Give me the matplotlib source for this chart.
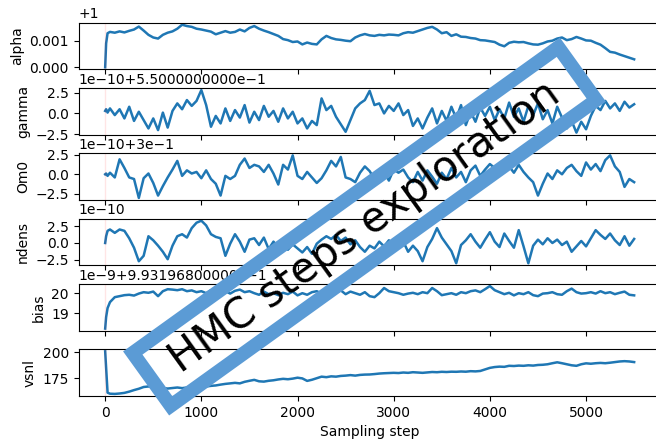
import numpy as np
import matplotlib
matplotlib.use("Agg")
import matplotlib.pyplot as plt
from matplotlib.patches import Polygon
from matplotlib.ticker import ScalarFormatter

steps = [0, 10, 25, 50] + list(range(100, 5501, 50))

# alpha - 1, in units of 1e-3
alpha_e3 = [0.0, 0.9, 1.28, 1.33,
            1.30, 1.35, 1.31, 1.37, 1.42, 1.53, 1.38, 1.22, 1.12, 1.08, 1.22, 1.30, 1.35, 1.45, 1.60, 1.55, 1.52, 1.45, 1.42,
            1.38, 1.34, 1.24, 1.30, 1.36, 1.30, 1.33, 1.42, 1.35, 1.48, 1.55, 1.45, 1.38, 1.32, 1.25, 1.18, 1.06, 1.02, 0.95, 0.97,
            0.86, 0.93, 0.88, 0.86, 1.05, 1.18, 1.10, 1.05, 1.03, 1.00, 0.98, 1.12, 1.20, 1.25, 1.20, 1.18, 1.22, 1.20, 1.23, 1.22,
            1.20, 1.28, 1.32, 1.30, 1.36, 1.42, 1.48, 1.52, 1.42, 1.28, 1.32, 1.18, 1.24, 1.15, 1.14, 1.10, 1.08, 1.02, 1.01, 0.98,
            0.95, 0.85, 0.79, 0.92, 0.96, 0.94, 0.95, 0.90, 0.86, 0.85, 0.90, 0.97, 1.00, 1.08, 1.12, 1.02, 1.06, 1.14, 1.08, 1.01,
            1.00, 0.92, 0.85, 0.72, 0.58, 0.55, 0.48, 0.42, 0.36, 0.30]

# gamma - 0.55, in units of 1e-10
gamma_e10 = [0.3, 0.5, 0.1, 0.6,
             -0.2, 0.5, -0.6, 0.8, -0.9, 0.2, -0.8, -1.8, -0.6, -2.0, 0.1, -1.7, 0.3, 1.2, 0.5, 1.6, 0.9, 1.5, 2.8,
             1.0, -1.6, -0.3, -1.2, 0.6, -0.9, 0.4, -0.5, 1.0, -1.1, 0.2, -0.8, 0.9, -0.4, 0.3, -1.0, 0.6, -0.6, 0.2, -1.2,
             -0.6, -1.8, -0.9, -1.4, 1.8, 0.4, 0.9, -0.4, -1.3, -2.2, -0.8, 0.6, 1.2, 1.6, 2.7, 1.0, 1.2, 0.0, 0.9, 0.3,
             1.2, -0.2, 0.4, -1.5, -0.6, -1.8, -0.5, 0.6, -1.2, 0.3, -0.9, 0.8, -0.6, 1.0, -1.4, 0.2, -1.0, 0.7, -0.3, 0.8,
             -0.8, 0.5, -0.6, 1.3, -0.4, 0.6, -1.0, 0.9, -0.2, 1.2, -0.7, 0.4, -1.2, 0.8, -0.5, -1.8, -0.9, -2.3, -1.0, -1.9,
             -0.3, 0.9, 0.4, 1.5, 0.6, 1.2, 0.3, 1.4, 0.7, 1.1]

# Om0 - 0.3, in units of 1e-10
om0_e10 = [0.0, 0.1, -0.2, 0.2,
           -0.4, 1.9, 0.8, -0.4, -0.6, -3.0, -0.5, 0.1, -1.1, -2.7, -1.5, -0.4, 0.6, 1.7, -0.2, 0.5, 0.1, 0.3, -0.5,
           0.5, -0.6, -1.2, -2.7, -0.2, -0.6, -0.2, 1.2, 2.0, 0.8, 1.2, 1.0, 0.3, 1.2, 0.1, -1.3, 1.2, 0.6, 2.4, -0.2,
           -0.6, 0.3, -0.4, -1.1, -0.5, 0.5, 1.7, 1.0, 2.2, -0.4, -0.6, -1.0, 0.2, 1.0, 0.4, -0.6, -0.2, 0.3, -0.8, 0.6,
           0.2, 0.6, -0.4, -1.0, 0.3, -0.8, 0.5, -0.3, -1.2, 0.2, -0.6, 0.8, -0.4, 0.3, -1.0, 0.5, 1.1, -0.2, 0.6, 1.3,
           0.8, 1.4, 0.4, 1.0, 0.2, 1.2, 0.3, -0.4, -1.0, -2.7, -1.2, 0.1, -0.6, 0.5, 0.0, 0.8, 1.2, 0.4, -0.2, 1.5,
           0.6, 1.3, 0.4, 1.8, 2.4, 1.0, 0.3, -1.6, -0.6, -1.0]

# ndens, in units of 1e-10
ndens_e10 = [0.0, 1.0, 1.8, 2.0,
             1.5, 2.0, 1.8, 0.7, -0.7, -2.7, -1.9, 1.0, 0.4, -0.4, -1.3, -2.4, -0.4, 1.0, 1.3, 0.8, 2.2, 3.0, 3.3,
             2.6, 1.3, 0.9, 0.7, -1.9, -0.1, 1.3, 0.2, -1.3, 0.5, 0.7, -0.3, 0.8, -0.9, 0.2, -0.6, 0.4, -1.0, -0.2, -0.8,
             -1.4, -0.6, -1.6, -0.1, 0.5, 1.0, 0.6, 1.2, 0.3, 0.8, -0.2, 0.4, -0.6, -1.3, -0.4, -0.8, 0.2, -0.5, 0.4, -0.6,
             0.3, 0.2, -1.3, -0.4, -1.2, -2.7, -0.6, 0.6, 2.2, 0.8, -0.2, -1.2, -3.0, -0.3, 0.4, 1.3, 0.2, -0.7, 0.5, 1.6,
             0.2, -0.6, 1.4, 0.3, -0.7, 1.9, -0.5, -3.0, -0.4, 0.5, -0.2, 0.7, 0.0, 0.5, -0.3, 0.2, -1.3, -0.5, 0.3, -0.5,
             0.7, 1.9, 1.2, 0.6, 1.4, 0.4, -0.3, 1.0, -0.4, 0.6]

# bias - 0.9931968, in units of 1e-9
bias_e9 = [18.22, 18.8, 19.25, 19.55,
           19.8, 19.85, 19.9, 19.92, 19.88, 19.98, 20.05, 20.02, 20.08, 19.85, 20.1, 20.2, 20.18, 20.15, 20.2, 20.1, 20.14, 20.05, 20.1,
           20.0, 20.15, 19.95, 20.05, 20.1, 19.98, 20.12, 20.18, 20.05, 20.1, 20.0, 19.92, 20.08, 19.95, 20.0, 19.9, 20.02, 19.95, 20.08, 19.89,
           20.0, 19.92, 20.05, 20.1, 19.98, 20.12, 20.15, 20.05, 20.14, 19.95, 20.08, 20.0, 19.92, 20.05, 19.85, 19.8, 20.0, 20.26, 20.1, 20.05,
           20.0, 19.92, 19.98, 20.02, 19.95, 20.05, 20.0, 20.26, 20.1, 19.9, 19.95, 20.0, 19.92, 20.05, 20.0, 20.1, 20.14, 20.05, 20.2, 20.36,
           20.15, 20.05, 19.95, 20.02, 19.89, 20.0, 19.95, 20.05, 19.9, 19.85, 19.98, 20.0, 20.05, 19.95, 19.92, 20.1, 20.23, 20.05, 19.98, 20.0,
           20.05, 19.98, 20.1, 20.0, 20.05, 19.95, 20.02, 20.08, 19.92, 19.89]

vsnl = [201, 185, 161, 160,
        159.8, 160.2, 160.8, 162, 163.5, 164.8, 166.5, 167, 166.2, 166.5, 165.5, 165, 165.5, 166, 165.4, 166, 165.5, 166.3, 166.5,
        167, 167.6, 168, 168.8, 169.5, 170, 170.5, 170, 171.5, 172.5, 173.4, 172, 171.7, 172.5, 173, 173.8, 174.4, 174, 174.6, 175.5,
        174.8, 172.4, 173.5, 175, 176.5, 176, 176.8, 176.5, 177.2, 177.5, 178, 177.5, 178.2, 178.5, 178.6, 179, 179.5, 179.8, 180, 180.2,
        180, 180.5, 180.2, 180.8, 180.5, 180.2, 180.6, 181, 180.8, 181.2, 181, 181.3, 181.2, 181.5, 181.3, 181.8, 181.6, 182, 183.5, 185,
        185.8, 186.2, 186, 187, 186.8, 187.2, 187, 187.5, 187.2, 187.8, 188, 188.5, 189.5, 190.4, 189.5, 188.5, 187.5, 187, 188.5, 189.4,
        189, 189.5, 189.8, 189.5, 190, 190.6, 191.2, 191.5, 191.2, 190.6]

labels = ["alpha", "gamma", "Om0", "ndens", "bias", "vsnl"]
offset_texts = ["+1", "1e\u221210+5.5000000000e\u22121", "1e\u221210+3e\u22121", "1e\u221210",
                "1e\u22129+9.93196800000e\u22121", ""]
traces = [1 + np.array(alpha_e3) * 1e-3,
          0.55 + np.array(gamma_e10) * 1e-10,
          0.3 + np.array(om0_e10) * 1e-10,
          np.array(ndens_e10) * 1e-10,
          0.9931968 + np.array(bias_e9) * 1e-9,
          np.array(vsnl, dtype=float)]


class OffsetFormatter(ScalarFormatter):
    # old-style long offset strings, as in the original figure
    def __init__(self, text):
        super().__init__()
        self.text = text

    def get_offset(self):
        if self.text and (self.offset or self.orderOfMagnitude):
            return self.text
        return super().get_offset()


fig, axes = plt.subplots(6, 1, sharex=True, figsize=(6.56, 4.43), dpi=100)
fig.subplots_adjust(left=0.120, right=1.007, top=0.949, bottom=0.106, hspace=0.395)

for ax, name, y, off in zip(axes, labels, traces, offset_texts):
    ax.plot(steps, y, color="C0", lw=1.8)
    ax.axvline(0, color="red", alpha=0.1, lw=1)
    ax.yaxis.set_major_formatter(OffsetFormatter(off))
    ax.set_ylabel(name)
axes[-1].set_xlabel("Sampling step")

# the "HMC steps exploration" stamp drawn over the figure (pixel units)
W, H = 656.0, 443.0
cx, cy = 364.5, H - 226.5
ang = np.deg2rad(35.7)
L, S = 524.0, 65.0
u = np.array([np.cos(ang), np.sin(ang)])
v = np.array([np.sin(ang), -np.cos(ang)])
c = np.array([cx, cy])
corners = [c - u * L / 2 - v * S / 2, c + u * L / 2 - v * S / 2,
           c + u * L / 2 + v * S / 2, c - u * L / 2 + v * S / 2]
corners = [(p[0] / W, p[1] / H) for p in corners]
stamp = Polygon(corners, closed=True, fill=False, edgecolor="#5b9bd5",
                lw=10, joinstyle="miter", transform=fig.transFigure)
fig.add_artist(stamp)
fig.text(cx / W, cy / H, "HMC steps exploration", fontsize=30, rotation=35.7,
         rotation_mode="anchor", ha="center", va="center", color="black")

fig.savefig("out.png", dpi=100)
